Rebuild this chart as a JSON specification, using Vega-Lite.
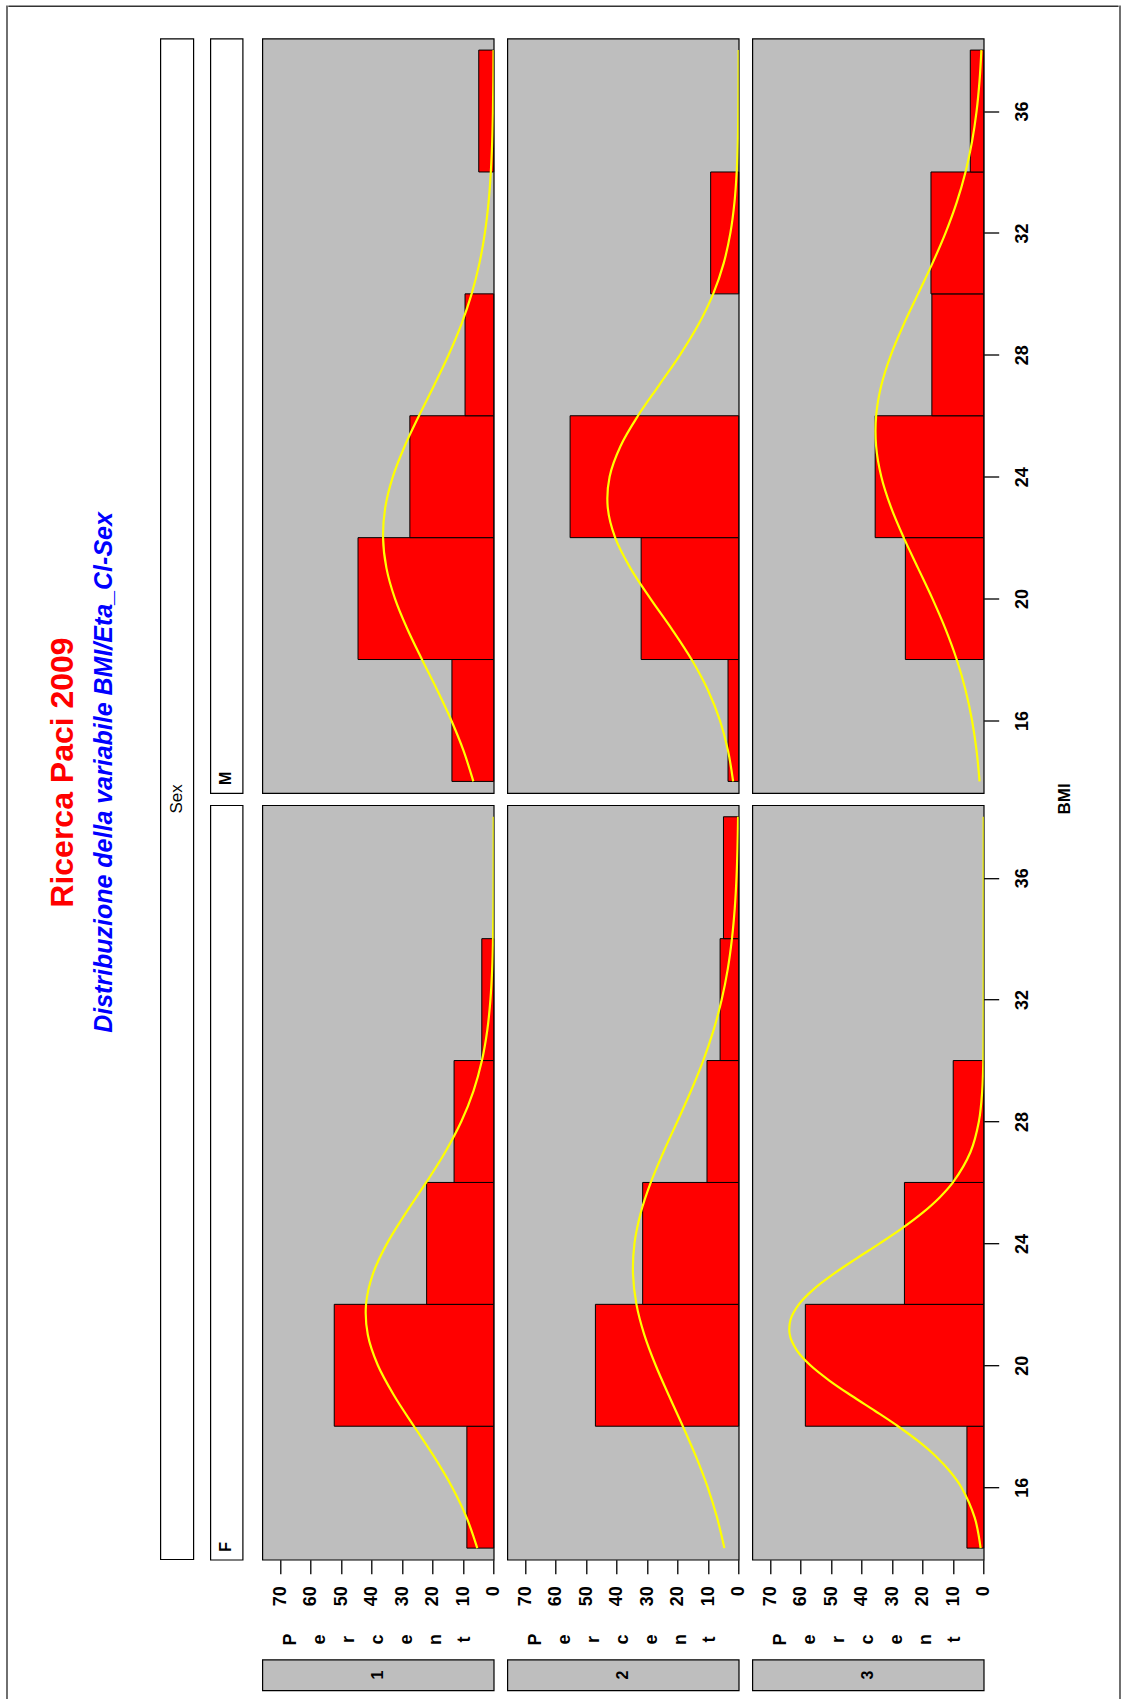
{
 "$schema": "https://vega.github.io/schema/vega-lite/v6.json",
 "background": "#FFFFFF",
 "padding": {"left": 6.3, "top": 5.5, "right": 3, "bottom": 0},
 "config": {"view": {"stroke": null}, "concat": {"spacing": 0}, "text": {"font": "Liberation Sans"},
  "axis": {"title": null, "grid": false, "domain": false, "ticks": true, "tickColor": "#000000", "tickWidth": 1.3, "labelAngle": 270, "labelFont": "Liberation Sans", "labelFontSize": 18, "labelFontWeight": "bold", "labelColor": "#000000", "labelOverlap": false, "labelFlush": false}},
 "datasets": {
  "bars": [
   {"lo":14,"hi":18,"F1":8.8,"M1":13.7,"F2":0,"M2":3.5,"F3":5.5,"M3":0},
   {"lo":18,"hi":22,"F1":52.3,"M1":44.5,"F2":47.0,"M2":32.0,"F3":58.5,"M3":25.7},
   {"lo":22,"hi":26,"F1":22.0,"M1":27.5,"F2":31.5,"M2":55.3,"F3":26.0,"M3":35.6},
   {"lo":26,"hi":30,"F1":13.0,"M1":9.4,"F2":10.4,"M2":0,"F3":10.0,"M3":17.0},
   {"lo":30,"hi":34,"F1":3.9,"M1":0,"F2":6.1,"M2":9.2,"F3":0,"M3":17.3},
   {"lo":34,"hi":38,"F1":0,"M1":4.9,"F2":5.0,"M2":0,"F3":0,"M3":4.4}
  ],
  "curves": [
   {"bmi":14,"F1":5.39,"M1":6.67,"F2":4.70,"M2":1.83,"F3":1.01,"M3":1.36},
   {"bmi":15,"F1":8.87,"M1":9.87,"F2":7.09,"M2":3.48,"F3":2.95,"M3":2.33},
   {"bmi":16,"F1":13.64,"M1":13.88,"F2":10.19,"M2":6.15,"F3":7.34,"M3":3.82},
   {"bmi":16.5,"F3":10.90},
   {"bmi":17,"F1":19.55,"M1":18.54,"F2":13.99,"M2":10.11,"F3":15.56,"M3":5.96},
   {"bmi":17.5,"F3":21.34},
   {"bmi":18,"F1":26.15,"M1":23.52,"F2":18.32,"M2":15.45,"F3":28.12,"M3":8.85},
   {"bmi":18.5,"F3":35.61},
   {"bmi":19,"F1":32.63,"M1":28.32,"F2":22.87,"M2":21.94,"F3":43.32,"M3":12.51},
   {"bmi":19.5,"F3":50.63},
   {"bmi":20,"F1":38.0,"M1":32.39,"F2":27.24,"M2":28.96,"F3":56.86,"M3":16.82},
   {"bmi":20.5,"F3":61.35},
   {"bmi":21,"F1":41.29,"M1":35.18,"F2":30.95,"M2":35.53,"F3":63.60,"M3":21.53},
   {"bmi":21.5,"F3":63.34},
   {"bmi":22,"F1":41.87,"M1":36.29,"F2":33.54,"M2":40.52,"F3":60.62,"M3":26.23},
   {"bmi":22.5,"F3":55.73},
   {"bmi":23,"F1":39.61,"M1":35.55,"F2":34.67,"M2":42.96,"F3":49.23,"M3":30.42},
   {"bmi":23.5,"F3":41.79},
   {"bmi":24,"F1":34.97,"M1":33.07,"F2":34.18,"M2":42.34,"F3":34.07,"M3":33.58},
   {"bmi":24.5,"F3":26.70},
   {"bmi":25,"F1":28.81,"M1":29.21,"F2":32.14,"M2":38.78,"F3":20.10,"M3":35.28},
   {"bmi":25.5,"F3":14.53},
   {"bmi":26,"F1":22.14,"M1":24.51,"F2":28.83,"M2":33.02,"F3":10.10,"M3":35.28},
   {"bmi":27,"F1":15.88,"M1":19.53,"F2":24.67,"M2":26.14,"F3":4.33,"M3":33.58},
   {"bmi":28,"F1":10.63,"M1":14.77,"F2":20.13,"M2":19.24,"F3":1.58,"M3":30.42},
   {"bmi":29,"F1":6.64,"M1":10.61,"F2":15.67,"M2":13.16,"F3":0.49,"M3":26.23},
   {"bmi":30,"F1":3.86,"M1":7.24,"F2":11.63,"M2":8.36,"F3":0.13,"M3":21.53},
   {"bmi":31,"F1":2.10,"M1":4.69,"F2":8.24,"M2":4.94,"F3":0.03,"M3":16.82},
   {"bmi":32,"F1":1.07,"M1":2.89,"F2":5.57,"M2":2.72,"F3":0.01,"M3":12.51},
   {"bmi":33,"F1":0.50,"M1":1.69,"F2":3.59,"M2":1.39,"F3":0,"M3":8.85},
   {"bmi":34,"F1":0.22,"M1":0.94,"F2":2.21,"M2":0.66,"F3":0,"M3":5.96},
   {"bmi":35,"F1":0.09,"M1":0.49,"F2":1.29,"M2":0.29,"F3":0,"M3":3.82},
   {"bmi":36,"F1":0.04,"M1":0.25,"F2":0.72,"M2":0.12,"F3":0,"M3":2.33},
   {"bmi":37,"F1":0.01,"M1":0.12,"F2":0.39,"M2":0.05,"F3":0,"M3":1.36},
   {"bmi":38,"F1":0,"M1":0.05,"F2":0.20,"M2":0.02,"F3":0,"M3":0.75}
  ]
 },
 "spacing": 0,
 "hconcat": [
  {"width": 1.4, "height": 1693.5, "view": {"fill": "#333333", "stroke": null}, "data": {"values": []}, "mark": "rect"},
  {"spacing": 0, "vconcat": [
   {"width": 1110.3, "height": 1.4, "view": {"fill": "#333333", "stroke": null}, "data": {"values": []}, "mark": "rect"},
   {"width": 1, "height": 29.1, "data": {"values": []}, "mark": "rect"},
   {"spacing": 0, "hconcat": [
  {"width": 29.3, "height": 1, "data": {"values": []}, "mark": "rect"},
  {"width": 50, "height": 1468, "data": {"values": [{"t": "Ricerca Paci 2009"}]},
   "mark": {"type": "text", "angle": 270, "align": "center", "baseline": "middle", "font": "Liberation Sans", "fontSize": 32, "fontWeight": "bold", "color": "#FF0000"},
   "encoding": {"text": {"field": "t"}}},
  {"width": 32, "height": 1468, "data": {"values": [{"t": "Distribuzione della variabile BMI/Eta_Cl-Sex"}]},
   "mark": {"type": "text", "angle": 270, "align": "center", "baseline": "middle", "font": "Liberation Sans", "fontSize": 25, "fontWeight": "bold", "fontStyle": "italic", "color": "#0000FF"},
   "encoding": {"text": {"field": "t"}}},
  {"width": 38.7, "height": 1, "data": {"values": []}, "mark": "rect"},
  {"width": 33, "height": 1520.7, "view": {"fill": "#FFFFFF", "stroke": "#000000", "strokeWidth": 1.2},
   "data": {"values": [{"t": "Sex"}]},
   "mark": {"type": "text", "angle": 270, "align": "center", "baseline": "middle", "font": "Liberation Sans", "fontSize": 17, "color": "#000000"},
   "encoding": {"text": {"field": "t"}}},
  {"width": 14.3, "height": 1, "data": {"values": []}, "mark": "rect"},
  {"vconcat": [
    {"width": 32.3, "height": 754.5, "view": {"fill": "#FFFFFF", "stroke": "#000000", "strokeWidth": 1.2},
     "data": {"values": [{"t": "M"}]},
     "mark": {"type": "text", "angle": 270, "align": "left", "baseline": "middle", "dx": 8, "font": "Liberation Sans", "fontSize": 16, "fontWeight": "bold", "color": "#000000"},
     "encoding": {"text": {"field": "t"}, "y": {"datum": 0, "type": "quantitative", "scale": {"domain": [0, 1]}, "axis": null}}},
    {"width": 32.3, "height": 754.5, "view": {"fill": "#FFFFFF", "stroke": "#000000", "strokeWidth": 1.2},
     "data": {"values": [{"t": "F"}]},
     "mark": {"type": "text", "angle": 270, "align": "left", "baseline": "middle", "dx": 8, "font": "Liberation Sans", "fontSize": 16, "fontWeight": "bold", "color": "#000000"},
     "encoding": {"text": {"field": "t"}, "y": {"datum": 0, "type": "quantitative", "scale": {"domain": [0, 1]}, "axis": null}}}
   ], "spacing": 11.7, "bounds": "flush"},
  {"width": 18, "height": 1, "data": {"values": []}, "mark": "rect"},
  {"concat": [
      {"width": 231.4, "height": 754.5, "view": {"fill": "#BEBEBE", "stroke": "#000000", "strokeWidth": 1.2},
       "layer": [
        {"data": {"name": "bars"}, "transform": [{"fold": ["M1"], "as": ["k", "pct"]}, {"filter": "datum.pct > 0"}],
         "mark": {"type": "rect", "fill": "#FF0000", "stroke": "#000000", "strokeWidth": 1},
         "encoding": {
          "x": {"field": "pct", "type": "quantitative", "scale": {"domain": [0, 75.9], "reverse": true, "nice": false, "zero": false}, "axis": null},
          "x2": {"datum": 0},
          "y": {"field": "lo", "type": "quantitative", "scale": {"domain": [13.62, 38.38], "nice": false, "zero": false}, "axis": null},
          "y2": {"field": "hi"}}},
        {"data": {"name": "curves"}, "transform": [{"fold": ["M1"], "as": ["k", "pct"]}, {"filter": "isValid(datum.pct)"}],
         "mark": {"type": "line", "stroke": "#FFFF00", "strokeWidth": 2.2, "interpolate": "catmull-rom", "clip": true},
         "encoding": {"x": {"field": "pct", "type": "quantitative", "axis": null}, "y": {"field": "bmi", "type": "quantitative", "axis": null}, "order": {"field": "bmi", "type": "quantitative"}}}
       ]},
      {"width": 231.4, "height": 754.5, "view": {"fill": "#BEBEBE", "stroke": "#000000", "strokeWidth": 1.2},
       "layer": [
        {"data": {"name": "bars"}, "transform": [{"fold": ["M2"], "as": ["k", "pct"]}, {"filter": "datum.pct > 0"}],
         "mark": {"type": "rect", "fill": "#FF0000", "stroke": "#000000", "strokeWidth": 1},
         "encoding": {
          "x": {"field": "pct", "type": "quantitative", "scale": {"domain": [0, 75.9], "reverse": true, "nice": false, "zero": false}, "axis": null},
          "x2": {"datum": 0},
          "y": {"field": "lo", "type": "quantitative", "scale": {"domain": [13.62, 38.38], "nice": false, "zero": false}, "axis": null},
          "y2": {"field": "hi"}}},
        {"data": {"name": "curves"}, "transform": [{"fold": ["M2"], "as": ["k", "pct"]}, {"filter": "isValid(datum.pct)"}],
         "mark": {"type": "line", "stroke": "#FFFF00", "strokeWidth": 2.2, "interpolate": "catmull-rom", "clip": true},
         "encoding": {"x": {"field": "pct", "type": "quantitative", "axis": null}, "y": {"field": "bmi", "type": "quantitative", "axis": null}, "order": {"field": "bmi", "type": "quantitative"}}}
       ]},
      {"width": 231.4, "height": 754.5, "view": {"fill": "#BEBEBE", "stroke": "#000000", "strokeWidth": 1.2},
       "layer": [
        {"data": {"name": "bars"}, "transform": [{"fold": ["M3"], "as": ["k", "pct"]}, {"filter": "datum.pct > 0"}],
         "mark": {"type": "rect", "fill": "#FF0000", "stroke": "#000000", "strokeWidth": 1},
         "encoding": {
          "x": {"field": "pct", "type": "quantitative", "scale": {"domain": [0, 75.9], "reverse": true, "nice": false, "zero": false}, "axis": null},
          "x2": {"datum": 0},
          "y": {"field": "lo", "type": "quantitative", "scale": {"domain": [13.62, 38.38], "nice": false, "zero": false},
                "axis": {"orient": "right", "values": [16, 20, 24, 28, 32, 36], "tickSize": 15, "labelAlign": "center", "labelBaseline": "top", "labelPadding": 15}},
          "y2": {"field": "hi"}}},
        {"data": {"name": "curves"}, "transform": [{"fold": ["M3"], "as": ["k", "pct"]}, {"filter": "isValid(datum.pct)"}],
         "mark": {"type": "line", "stroke": "#FFFF00", "strokeWidth": 2.2, "interpolate": "catmull-rom", "clip": true},
         "encoding": {"x": {"field": "pct", "type": "quantitative", "axis": null},
          "y": {"field": "bmi", "type": "quantitative", "axis": {"orient": "right", "values": [16, 20, 24, 28, 32, 36], "tickSize": 15, "labelAlign": "center", "labelBaseline": "top", "labelPadding": 15}},
          "order": {"field": "bmi", "type": "quantitative"}}}
       ]},
      {"width": 231.4, "height": 754.5, "view": {"fill": "#BEBEBE", "stroke": "#000000", "strokeWidth": 1.2},
       "layer": [
        {"data": {"name": "bars"}, "transform": [{"fold": ["F1"], "as": ["k", "pct"]}, {"filter": "datum.pct > 0"}],
         "mark": {"type": "rect", "fill": "#FF0000", "stroke": "#000000", "strokeWidth": 1},
         "encoding": {
          "x": {"field": "pct", "type": "quantitative", "scale": {"domain": [0, 75.9], "reverse": true, "nice": false, "zero": false},
                "axis": {"orient": "bottom", "values": [0, 10, 20, 30, 40, 50, 60, 70], "tickSize": 14, "labelAlign": "right", "labelBaseline": "middle", "labelPadding": 12}},
          "x2": {"datum": 0},
          "y": {"field": "lo", "type": "quantitative", "scale": {"domain": [13.62, 38.38], "nice": false, "zero": false}, "axis": null},
          "y2": {"field": "hi"}}},
        {"data": {"name": "curves"}, "transform": [{"fold": ["F1"], "as": ["k", "pct"]}, {"filter": "isValid(datum.pct)"}],
         "mark": {"type": "line", "stroke": "#FFFF00", "strokeWidth": 2.2, "interpolate": "catmull-rom", "clip": true},
         "encoding": {"x": {"field": "pct", "type": "quantitative", "axis": {"orient": "bottom", "values": [0, 10, 20, 30, 40, 50, 60, 70], "tickSize": 14, "labelAlign": "right", "labelBaseline": "middle", "labelPadding": 12}},
          "y": {"field": "bmi", "type": "quantitative", "axis": null}, "order": {"field": "bmi", "type": "quantitative"}}}
       ]},
      {"width": 231.4, "height": 754.5, "view": {"fill": "#BEBEBE", "stroke": "#000000", "strokeWidth": 1.2},
       "layer": [
        {"data": {"name": "bars"}, "transform": [{"fold": ["F2"], "as": ["k", "pct"]}, {"filter": "datum.pct > 0"}],
         "mark": {"type": "rect", "fill": "#FF0000", "stroke": "#000000", "strokeWidth": 1},
         "encoding": {
          "x": {"field": "pct", "type": "quantitative", "scale": {"domain": [0, 75.9], "reverse": true, "nice": false, "zero": false},
                "axis": {"orient": "bottom", "values": [0, 10, 20, 30, 40, 50, 60, 70], "tickSize": 14, "labelAlign": "right", "labelBaseline": "middle", "labelPadding": 12}},
          "x2": {"datum": 0},
          "y": {"field": "lo", "type": "quantitative", "scale": {"domain": [13.62, 38.38], "nice": false, "zero": false}, "axis": null},
          "y2": {"field": "hi"}}},
        {"data": {"name": "curves"}, "transform": [{"fold": ["F2"], "as": ["k", "pct"]}, {"filter": "isValid(datum.pct)"}],
         "mark": {"type": "line", "stroke": "#FFFF00", "strokeWidth": 2.2, "interpolate": "catmull-rom", "clip": true},
         "encoding": {"x": {"field": "pct", "type": "quantitative", "axis": {"orient": "bottom", "values": [0, 10, 20, 30, 40, 50, 60, 70], "tickSize": 14, "labelAlign": "right", "labelBaseline": "middle", "labelPadding": 12}},
          "y": {"field": "bmi", "type": "quantitative", "axis": null}, "order": {"field": "bmi", "type": "quantitative"}}}
       ]},
      {"width": 231.4, "height": 754.5, "view": {"fill": "#BEBEBE", "stroke": "#000000", "strokeWidth": 1.2},
       "layer": [
        {"data": {"name": "bars"}, "transform": [{"fold": ["F3"], "as": ["k", "pct"]}, {"filter": "datum.pct > 0"}],
         "mark": {"type": "rect", "fill": "#FF0000", "stroke": "#000000", "strokeWidth": 1},
         "encoding": {
          "x": {"field": "pct", "type": "quantitative", "scale": {"domain": [0, 75.9], "reverse": true, "nice": false, "zero": false},
                "axis": {"orient": "bottom", "values": [0, 10, 20, 30, 40, 50, 60, 70], "tickSize": 14, "labelAlign": "right", "labelBaseline": "middle", "labelPadding": 12}},
          "x2": {"datum": 0},
          "y": {"field": "lo", "type": "quantitative", "scale": {"domain": [13.62, 38.38], "nice": false, "zero": false},
                "axis": {"orient": "right", "values": [16, 20, 24, 28, 32, 36], "tickSize": 15, "labelAlign": "center", "labelBaseline": "top", "labelPadding": 15}},
          "y2": {"field": "hi"}}},
        {"data": {"name": "curves"}, "transform": [{"fold": ["F3"], "as": ["k", "pct"]}, {"filter": "isValid(datum.pct)"}],
         "mark": {"type": "line", "stroke": "#FFFF00", "strokeWidth": 2.2, "interpolate": "catmull-rom", "clip": true},
         "encoding": {"x": {"field": "pct", "type": "quantitative", "axis": {"orient": "bottom", "values": [0, 10, 20, 30, 40, 50, 60, 70], "tickSize": 14, "labelAlign": "right", "labelBaseline": "middle", "labelPadding": 12}},
          "y": {"field": "bmi", "type": "quantitative", "axis": {"orient": "right", "values": [16, 20, 24, 28, 32, 36], "tickSize": 15, "labelAlign": "center", "labelBaseline": "top", "labelPadding": 15}},
          "order": {"field": "bmi", "type": "quantitative"}}}
       ]},
      {"width": 231.4, "height": 75.9, "data": {"values": [{"i":1,"ch":"P"},{"i":2,"ch":"e"},{"i":3,"ch":"r"},{"i":4,"ch":"c"},{"i":5,"ch":"e"},{"i":6,"ch":"n"},{"i":7,"ch":"t"}]},
       "mark": {"type": "text", "angle": 270, "align": "center", "baseline": "middle", "dx": 8.3, "font": "Liberation Sans", "fontSize": 18, "fontWeight": "bold", "color": "#000000"},
       "encoding": {"x": {"field": "i", "type": "ordinal", "scale": {"type": "point", "padding": 2.5}, "axis": null}, "y": {"datum": 0, "type": "quantitative", "scale": {"domain": [0, 1]}, "axis": null}, "text": {"field": "ch"}}},
      {"width": 231.4, "height": 75.9, "data": {"values": [{"i":1,"ch":"P"},{"i":2,"ch":"e"},{"i":3,"ch":"r"},{"i":4,"ch":"c"},{"i":5,"ch":"e"},{"i":6,"ch":"n"},{"i":7,"ch":"t"}]},
       "mark": {"type": "text", "angle": 270, "align": "center", "baseline": "middle", "dx": 8.3, "font": "Liberation Sans", "fontSize": 18, "fontWeight": "bold", "color": "#000000"},
       "encoding": {"x": {"field": "i", "type": "ordinal", "scale": {"type": "point", "padding": 2.5}, "axis": null}, "y": {"datum": 0, "type": "quantitative", "scale": {"domain": [0, 1]}, "axis": null}, "text": {"field": "ch"}}},
      {"width": 231.4, "height": 75.9, "data": {"values": [{"i":1,"ch":"P"},{"i":2,"ch":"e"},{"i":3,"ch":"r"},{"i":4,"ch":"c"},{"i":5,"ch":"e"},{"i":6,"ch":"n"},{"i":7,"ch":"t"}]},
       "mark": {"type": "text", "angle": 270, "align": "center", "baseline": "middle", "dx": 8.3, "font": "Liberation Sans", "fontSize": 18, "fontWeight": "bold", "color": "#000000"},
       "encoding": {"x": {"field": "i", "type": "ordinal", "scale": {"type": "point", "padding": 2.5}, "axis": null}, "y": {"datum": 0, "type": "quantitative", "scale": {"domain": [0, 1]}, "axis": null}, "text": {"field": "ch"}}},
      {"width": 231.4, "height": 30.7, "view": {"fill": "#BEBEBE", "stroke": "#000000", "strokeWidth": 1.2},
       "data": {"values": [{"t": "1"}]},
       "mark": {"type": "text", "angle": 270, "align": "center", "baseline": "middle", "font": "Liberation Sans", "fontSize": 16, "fontWeight": "bold", "color": "#000000"},
       "encoding": {"text": {"field": "t"}}},
      {"width": 231.4, "height": 30.7, "view": {"fill": "#BEBEBE", "stroke": "#000000", "strokeWidth": 1.2},
       "data": {"values": [{"t": "2"}]},
       "mark": {"type": "text", "angle": 270, "align": "center", "baseline": "middle", "font": "Liberation Sans", "fontSize": 16, "fontWeight": "bold", "color": "#000000"},
       "encoding": {"text": {"field": "t"}}},
      {"width": 231.4, "height": 30.7, "view": {"fill": "#BEBEBE", "stroke": "#000000", "strokeWidth": 1.2},
       "data": {"values": [{"t": "3"}]},
       "mark": {"type": "text", "angle": 270, "align": "center", "baseline": "middle", "font": "Liberation Sans", "fontSize": 16, "fontWeight": "bold", "color": "#000000"},
       "encoding": {"text": {"field": "t"}}}
   ], "columns": 3, "spacing": {"row": 11.7, "column": 13}, "bounds": "flush"},
  {"width": 66.4, "height": 1520.7, "data": {"values": [{"t": "BMI"}]},
   "mark": {"type": "text", "angle": 270, "align": "center", "baseline": "middle", "font": "Liberation Sans", "fontSize": 17, "fontWeight": "bold", "color": "#000000"},
   "encoding": {"text": {"field": "t"}}}
   ]}
  ]},
  {"width": 1.4, "height": 1693.5, "view": {"fill": "#333333", "stroke": null}, "data": {"values": []}, "mark": "rect"}
 ]
}
